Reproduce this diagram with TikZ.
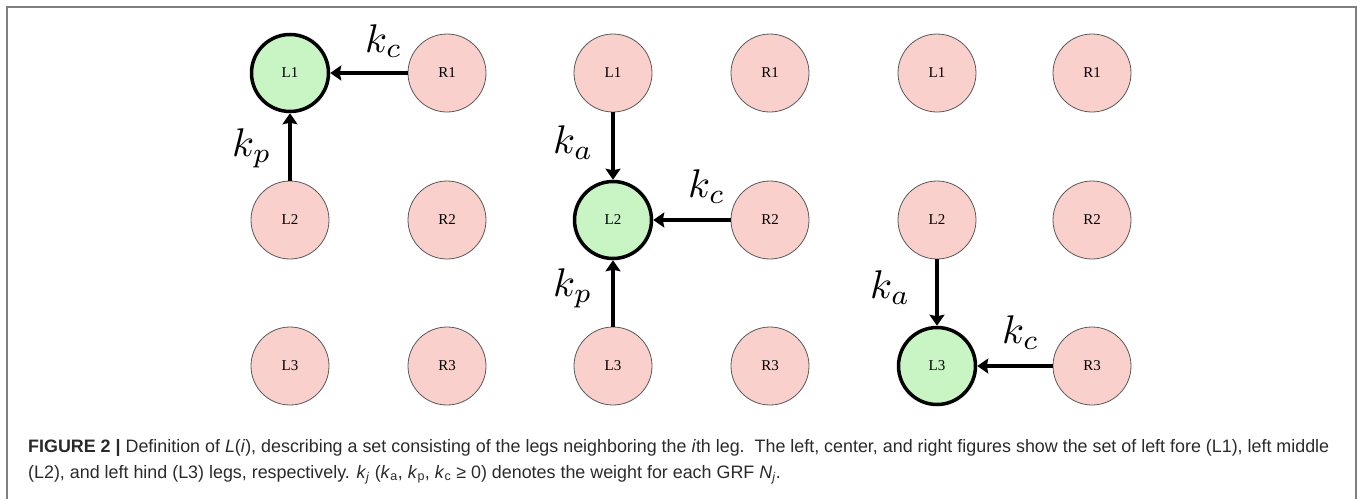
\documentclass[tikz,border=0pt]{standalone}
\usepackage{fontspec}
\usepackage{graphicx}
\usetikzlibrary{arrows.meta}
\newfontfamily\capfont{Liberation Sans}
\newfontfamily\legfont{Liberation Serif}
\definecolor{pinkfill}{HTML}{F9D0CB}
\definecolor{greenfill}{HTML}{C9F5C4}
\definecolor{pinkline}{HTML}{5A5A5A}
\definecolor{framegray}{HTML}{808080}
\definecolor{captext}{HTML}{2A2A2A}
\newlength\capwd
\newcommand\bigk[1]{\scalebox{4}{$k_{#1}$}}
\newcommand\capLineA{\textbf{FIGURE 2 |} Definition of \textit{L}(\textit{i}), describing a set consisting of the legs neighboring the \textit{i}th leg.\ \ The left, center, and right figures show the set of left fore (L1), left middle}
\newcommand\capLineB{(L2), and left hind (L3) legs, respectively. \textit{k}\textsubscript{\textit{j}} (\textit{k}\textsubscript{a}, \textit{k}\textsubscript{p}, \textit{k}\textsubscript{c} ≥ 0) denotes the weight for each GRF \textit{N}\textsubscript{\textit{j}}.}
\begin{document}
\settowidth\capwd{\capfont\fontsize{18}{20}\selectfont\capLineA}
\pgfmathsetmacro\capfac{1301/\capwd}
\begin{tikzpicture}[x=1pt,y=-1pt,
  leg/.style={circle, inner sep=0pt, font=\legfont\fontsize{15}{15}\selectfont},
  pinkleg/.style={leg, minimum size=78pt, fill=pinkfill, draw=pinkline, line width=0.8pt},
  greenleg/.style={leg, minimum size=77pt, fill=greenfill, draw=black, line width=3.5pt},
  arr/.style={-{Stealth[length=11pt,width=15pt,inset=1.5pt]}, line width=3.5pt},
  klab/.style={inner sep=0pt, anchor=base west},
  captxt/.style={inner sep=0pt, anchor=base west, text=captext, font=\capfont\fontsize{18}{20}\selectfont}]
\useasboundingbox (0,0) rectangle (1360,498);
\draw[framegray, line width=2pt] (7,502) -- (7,7) -- (1356,7) -- (1356,502);

% group 1
\node[greenleg] (aL1) at (290,73) {L1};
\node[pinkleg] (aR1) at (447,73) {R1};
\node[pinkleg] (aL2) at (290,220) {L2};
\node[pinkleg] (aR2) at (447,220) {R2};
\node[pinkleg] (aL3) at (290,366) {L3};
\node[pinkleg] (aR3) at (447,366) {R3};
\draw[arr] (aR1) -- (aL1);
\draw[arr] (aL2) -- (aL1);
\node[klab] (akc) at (365,52) {\bigk{c}};
\node[klab] (akp) at (232,156) {\bigk{p}};

% group 2
\node[pinkleg] (bL1) at (613,73) {L1};
\node[pinkleg] (bR1) at (770,73) {R1};
\node[greenleg] (bL2) at (613,220) {L2};
\node[pinkleg] (bR2) at (770,220) {R2};
\node[pinkleg] (bL3) at (613,366) {L3};
\node[pinkleg] (bR3) at (770,366) {R3};
\draw[arr] (bL1) -- (bL2);
\draw[arr] (bR2) -- (bL2);
\draw[arr] (bL3) -- (bL2);
\node[klab] (bka) at (553,153) {\bigk{a}};
\node[klab] (bkc) at (688,197) {\bigk{c}};
\node[klab] (bkp) at (553,296) {\bigk{p}};

% group 3
\node[pinkleg] (cL1) at (937,73) {L1};
\node[pinkleg] (cR1) at (1092,73) {R1};
\node[pinkleg] (cL2) at (937,220) {L2};
\node[pinkleg] (cR2) at (1092,220) {R2};
\node[greenleg] (cL3) at (937,366) {L3};
\node[pinkleg] (cR3) at (1092,366) {R3};
\draw[arr] (cL2) -- (cL3);
\draw[arr] (cR3) -- (cL3);
\node[klab] (cka) at (870,298) {\bigk{a}};
\node[klab] (ckc) at (1002,343) {\bigk{c}};

% caption
\node[captxt] (cap1) at (28,452) {\scalebox{\capfac}[1]{\capLineA}};
\node[captxt] (cap2) at (28,478) {\scalebox{\capfac}[1]{\capLineB}};
\end{tikzpicture}
\end{document}
